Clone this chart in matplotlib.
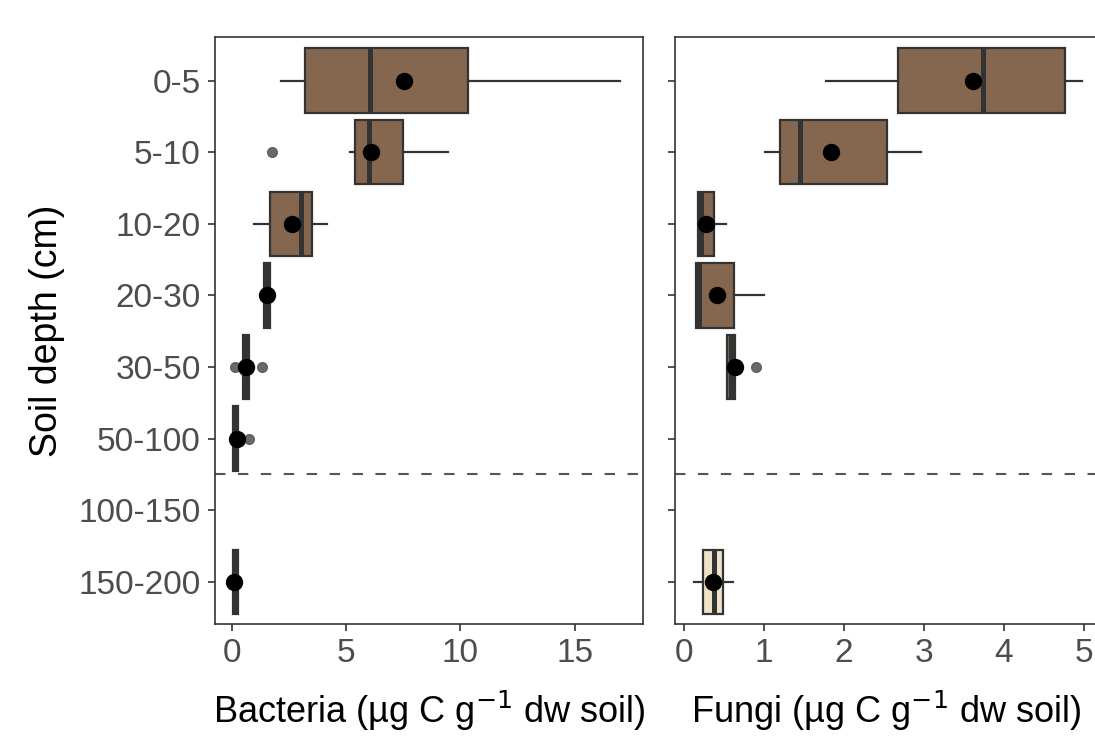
import matplotlib
matplotlib.use("Agg")
import matplotlib.pyplot as plt

plt.rcParams['font.family'] = ['Liberation Sans', 'DejaVu Sans']

depths = ["0-5", "5-10", "10-20", "20-30", "30-50", "50-100", "100-150", "150-200"]

# Bacteria (index into depths)
bac_pos = [0, 1, 2, 3, 4, 5, 7]
bac_whislo = [2.14, 5.15, 0.96, 1.38, 0.50, 0.03, 0.03]
bac_q1 = [3.19, 5.38, 1.67, 1.38, 0.50, 0.03, 0.03]
bac_med = [6.03, 5.98, 3.03, 1.52, 0.60, 0.12, 0.10]
bac_q3 = [10.33, 7.48, 3.49, 1.68, 0.73, 0.26, 0.26]
bac_whishi = [17.0, 9.45, 4.16, 1.68, 0.73, 0.26, 0.26]
bac_mean = [7.53, 6.10, 2.63, 1.51, 0.61, 0.20, 0.10]
bac_out = [[], [1.76], [], [], [0.15, 1.30], [0.76], []]

# Fungi
fun_pos = [0, 1, 2, 3, 4, 7]
fun_whislo = [1.78, 1.01, 0.17, 0.15, 0.54, 0.12]
fun_q1 = [2.67, 1.20, 0.17, 0.15, 0.54, 0.23]
fun_med = [3.74, 1.45, 0.21, 0.19, 0.58, 0.37]
fun_q3 = [4.77, 2.54, 0.37, 0.62, 0.63, 0.49]
fun_whishi = [4.98, 2.97, 0.52, 1.00, 0.63, 0.61]
fun_mean = [3.61, 1.84, 0.27, 0.41, 0.63, 0.36]
fun_out = [[], [], [], [], [0.90], []]

BROWN = "#85664F"
BEIGE = "#F0E2C8"
EDGE = "#333333"

W, H = 1095, 738
fig = plt.figure(figsize=(W / 100, H / 100), dpi=100)
ytop, ybot = 37, 624
axL = fig.add_axes([214.7 / W, 1 - ybot / H, (643.3 - 214.7) / W, (ybot - ytop) / H])
axR = fig.add_axes([674.7 / W, 1 - ybot / H, (1098 - 674.7) / W, (ybot - ytop) / H])


def draw(ax, pos, wl, q1, med, q3, wh, mean, out):
    stats = []
    for i in range(len(pos)):
        stats.append(dict(whislo=wl[i], q1=q1[i], med=med[i], q3=q3[i],
                          whishi=wh[i], fliers=out[i]))
    res = ax.bxp(stats, positions=pos, widths=0.9, orientation='horizontal',
                 patch_artist=True, showcaps=False,
                 boxprops=dict(edgecolor=EDGE, linewidth=1.6),
                 whiskerprops=dict(color=EDGE, linewidth=1.6),
                 medianprops=dict(color=EDGE, linewidth=3.6, solid_capstyle='butt'),
                 flierprops=dict(marker='o', markerfacecolor='#595959',
                                 markeredgecolor='#595959', markersize=7, alpha=0.9))
    for p, b in zip(pos, res['boxes']):
        b.set_facecolor(BEIGE if depths[p] == "150-200" else BROWN)
    ax.plot(mean, pos, 'o', color='black', markersize=11.5, zorder=10, linestyle='none')
    ax.axhline(5.5, color='#555555', linestyle=(0, (5, 6)), linewidth=1.5, zorder=1)
    ax.set_ylim(7.59, -0.61)
    ax.set_yticks(range(len(depths)))
    for s in ax.spines.values():
        s.set_color(EDGE)
        s.set_linewidth(1.2)
    ax.tick_params(axis='both', colors=EDGE, labelcolor='#4D4D4D', labelsize=24,
                   length=5, width=1.2, pad=5)


draw(axL, bac_pos, bac_whislo, bac_q1, bac_med, bac_q3, bac_whishi, bac_mean, bac_out)
draw(axR, fun_pos, fun_whislo, fun_q1, fun_med, fun_q3, fun_whishi, fun_mean, fun_out)

axL.set_yticklabels(depths)
axR.set_yticklabels([])
axL.set_xlim(-0.757, 18.0)
axL.set_xticks([0, 5, 10, 15])
axR.set_xlim(-0.12, 5.18)
axR.set_xticks([0, 1, 2, 3, 4, 5])

axL.set_ylabel("Soil depth (cm)", fontsize=27, color='black', labelpad=10)
axL.set_xlabel(r"Bacteria (µg C g$^{-1}$ dw soil)", fontsize=26, color='black', labelpad=14)
axR.set_xlabel(r"Fungi (µg C g$^{-1}$ dw soil)", fontsize=26, color='black', labelpad=14)

fig.savefig("out.png", dpi=100)
